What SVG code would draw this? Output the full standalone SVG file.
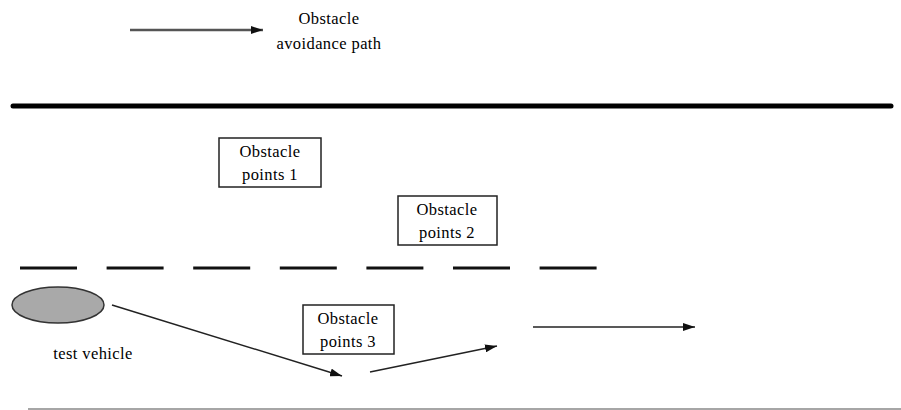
<svg xmlns="http://www.w3.org/2000/svg" width="901" height="410" viewBox="0 0 901 410">
<style>
.t{font-family:"Liberation Serif",serif;font-size:16.5px;letter-spacing:0.4px;fill:#000;text-anchor:middle}
.box{fill:#fff;stroke:#222;stroke-width:1.5}
.arr{stroke:#222;stroke-width:1.5;fill:none;marker-end:url(#ah)}
</style>
<defs>
<marker id="ah" viewBox="0 0 12 8" refX="12" refY="4" markerWidth="12" markerHeight="8" markerUnits="userSpaceOnUse" orient="auto">
<path d="M0,0 L12,4 L0,8 Z" fill="#111"/>
</marker>
</defs>
<g id="road">
<line x1="13" y1="106" x2="891" y2="106" stroke="#000" stroke-width="5" stroke-linecap="round"/>
<line x1="20" y1="268" x2="597" y2="268" stroke="#111" stroke-width="3" stroke-dasharray="57 29.6"/>
<line x1="28" y1="409" x2="901" y2="409" stroke="#888" stroke-width="1.5"/>
</g>
<g id="legend">
<line x1="130" y1="30" x2="263" y2="30" stroke="#555" stroke-width="2.5" marker-end="url(#ah)"/>
<text class="t" x="329" y="24">Obstacle</text>
<text class="t" x="329" y="49">avoidance path</text>
</g>
<g id="obstacle1">
<rect class="box" x="219" y="138" width="102" height="49"/>
<text class="t" x="270" y="157">Obstacle</text>
<text class="t" x="270" y="180">points 1</text>
</g>
<g id="obstacle2">
<rect class="box" x="398" y="196" width="99" height="49"/>
<text class="t" x="447" y="215">Obstacle</text>
<text class="t" x="447" y="238">points 2</text>
</g>
<g id="obstacle3">
<rect class="box" x="303" y="305" width="91" height="49"/>
<text class="t" x="348" y="324">Obstacle</text>
<text class="t" x="348" y="347">points 3</text>
</g>
<g id="vehicle">
<ellipse cx="58" cy="305" rx="46" ry="18" fill="#a9a9a9" stroke="#333" stroke-width="1.5"/>
<text class="t" x="93" y="359">test vehicle</text>
</g>
<g id="connectors">
<line class="arr" x1="112" y1="305" x2="342" y2="376"/>
<line class="arr" x1="370" y1="372" x2="497" y2="346"/>
<line class="arr" x1="533" y1="327" x2="695" y2="327"/>
</g>
</svg>
